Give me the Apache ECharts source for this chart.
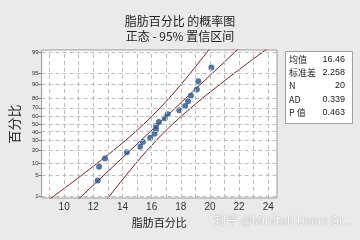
<!DOCTYPE html>
<html><head><meta charset="utf-8">
<script src="https://cdn.jsdelivr.net/npm/echarts@6/dist/echarts.min.js"></script>
<style>html,body{margin:0;padding:0;background:#eaeaea}#c{width:360px;height:240px}</style>
</head><body><div id="c"></div>
<script>
// ---- data ----
const fatPct = [12.3,12.4,12.8,14.3,15.2,15.4,15.9,16.2,16.3,16.3,16.5,16.9,17.1,17.9,18.3,18.5,18.7,19.1,19.2,20.1];
const cumPct = [3.43,8.33,13.24,18.14,23.04,27.94,32.84,37.75,42.65,47.55,52.45,57.35,62.25,67.16,72.06,76.96,81.86,86.76,91.67,96.57];
const bandPct = [0.5,1,2,5,10,20,30,40,50,60,70,80,90,95,98,99,99.5];
const lowerX = [8.59,9.30,10.08,11.23,12.23,13.41,14.22,14.88,15.47,16.03,16.59,17.21,18.02,18.66,19.35,19.81,20.22];
const upperX = [12.70,13.11,13.57,14.26,14.90,15.71,16.33,16.89,17.45,18.04,18.70,19.51,20.69,21.69,22.84,23.62,24.33];
const fitPct = [0.5, 99.5];
const fitX = [10.64, 22.28];
const yTickPct = [1,5,10,20,30,40,50,60,70,80,90,95,99];
const xTickLabels = [10,12,14,16,18,20,22,24];
const xGridVals = [9,10,11,12,13,14,15,16,17,18,19,20,21,22,23,24];
const statNames = ['均值','标准差','N','AD','P 值'];
const statValues = ['16.46','2.258','20','0.339','0.463'];

// normal probability scale (inverse normal CDF)
function probit(p){
  const a=[-39.69683028665376,220.9460984245205,-275.9285104469687,138.3577518672690,-30.66479806614716,2.506628277459239];
  const b=[-54.47609879822406,161.5858368580409,-155.6989798598866,66.80131188771972,-13.28068155288572];
  const c=[-0.007784894002430293,-0.3223964580411365,-2.400758277161838,-2.549732539343734,4.374664141464968,2.938163982698783];
  const d=[0.007784695709041462,0.3224671290700398,2.445134137142996,3.754408661907416];
  const pl=0.02425, ph=1-pl; let q,r;
  if(p<pl){q=Math.sqrt(-2*Math.log(p));return (((((c[0]*q+c[1])*q+c[2])*q+c[3])*q+c[4])*q+c[5])/((((d[0]*q+d[1])*q+d[2])*q+d[3])*q+1);}
  if(p>ph){q=Math.sqrt(-2*Math.log(1-p));return -(((((c[0]*q+c[1])*q+c[2])*q+c[3])*q+c[4])*q+c[5])/((((d[0]*q+d[1])*q+d[2])*q+d[3])*q+1);}
  q=p-0.5;r=q*q;return (((((a[0]*r+a[1])*r+a[2])*r+a[3])*r+a[4])*r+a[5])*q/(((((b[0]*r+b[1])*r+b[2])*r+b[3])*r+b[4])*r+1);
}
const P = v => probit(v/100);
const yTickZ = yTickPct.map(P);

const lineCol = '#7a1a1a';
const gridLine = {color:'#bcbcbc', type:[4,3], width:1};

const chart = echarts.init(document.getElementById('c'), null, {renderer:'canvas'});
const statGraphics = [];
statNames.forEach((n,i)=>{
  statGraphics.push({type:'text', left:289, top:55+i*13.2, style:{text:n, font:'9px "Noto Sans CJK SC", sans-serif', fill:'#222'}});
  statGraphics.push({type:'text', right:15, top:55+i*13.2, style:{text:statValues[i], font:'9px "Liberation Sans", sans-serif', fill:'#222', textAlign:'right'}});
});

chart.setOption({
  animation:false,
  backgroundColor:'#eaeaea',
  title:{
    text:'脂肪百分比 的概率图', subtext:'正态 - 95% 置信区间',
    left:'center', top:10, itemGap:3,
    textStyle:{fontSize:12, fontWeight:'normal', color:'#222', fontFamily:'"Noto Sans CJK SC", sans-serif'},
    subtextStyle:{fontSize:12, color:'#222', fontFamily:'"Noto Sans CJK SC", sans-serif'}
  },
  grid:{left:36, top:50, width:241, height:148, show:true, backgroundColor:'#fff', borderColor:'#9a9a9a', borderWidth:1},
  xAxis:{
    type:'value', min:8.45, max:24.6,
    name:'脂肪百分比', nameLocation:'middle', nameGap:17,
    nameTextStyle:{fontSize:11, color:'#222', fontFamily:'"Noto Sans CJK SC", sans-serif'},
    axisLine:{show:false},
    axisTick:{show:true, customValues:xGridVals, length:3, lineStyle:{color:'#777'}},
    axisLabel:{customValues:xTickLabels, fontSize:10, color:'#333', margin:4, fontFamily:'"Liberation Sans", sans-serif'},
    splitLine:{show:false}
  },
  yAxis:{
    type:'value', min:-2.39, max:2.39,
    name:'百分比', nameLocation:'middle', nameGap:17, nameRotate:90,
    nameTextStyle:{fontSize:13, color:'#222', fontFamily:'"Noto Sans CJK SC", sans-serif'},
    axisLine:{show:false},
    axisTick:{show:true, customValues:yTickZ, length:3, lineStyle:{color:'#777'}},
    axisLabel:{customValues:yTickZ, fontSize:6, color:'#333', margin:3,
      formatter:v=>{const i=yTickZ.findIndex(z=>Math.abs(z-v)<1e-6);return i>=0?String(yTickPct[i]):'';}},
    splitLine:{show:false}
  },
  graphic:[
    {type:'rect', left:285, top:51, shape:{width:67, height:72}, style:{fill:'#fff', stroke:'#a0a0a0', lineWidth:1}},
    ...statGraphics,
    {type:'text', left:214, top:214, style:{text:'知乎 @Minitab Users Gr...', font:'12px "Noto Sans CJK SC", sans-serif', fill:'#fafafa', textShadowColor:'rgba(0,0,0,0.45)', textShadowBlur:1.2}}
  ],
  series:[
    {type:'line', data:[], z:0, silent:true,
     markLine:{silent:true, symbol:['none','none'], label:{show:false}, lineStyle:gridLine, animation:false,
       data:[...xGridVals.map(x=>({xAxis:x})), ...yTickZ.map(z=>({yAxis:z}))]}},
    {type:'line', data:bandPct.map((p,i)=>[lowerX[i],P(p)]), smooth:0.3, showSymbol:false, lineStyle:{color:lineCol,width:1}, z:2},
    {type:'line', data:bandPct.map((p,i)=>[upperX[i],P(p)]), smooth:0.3, showSymbol:false, lineStyle:{color:lineCol,width:1}, z:2},
    {type:'line', data:fitPct.map((p,i)=>[fitX[i],P(p)]), showSymbol:false, lineStyle:{color:lineCol,width:1}, z:2},
    {type:'scatter', data:fatPct.map((x,i)=>[x,P(cumPct[i])]), symbolSize:6, itemStyle:{color:'#1f5592'}, z:3}
  ]
});
</script></body></html>
